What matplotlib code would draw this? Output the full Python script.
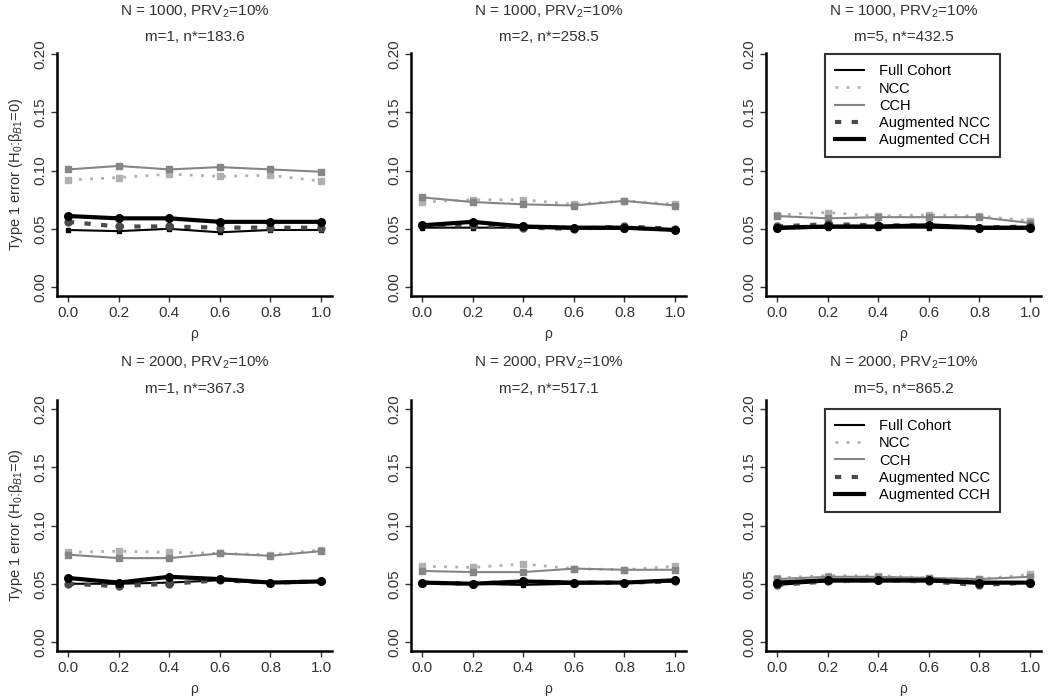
import matplotlib
matplotlib.use("Agg")
import matplotlib.pyplot as plt

plt.rcParams["font.family"] = ["Liberation Sans", "DejaVu Sans"]
plt.rcParams["mathtext.fontset"] = "custom"
plt.rcParams["mathtext.rm"] = "Liberation Sans"
plt.rcParams["mathtext.it"] = "Liberation Sans:italic"

rho = [0.0, 0.2, 0.4, 0.6, 0.8, 1.0]

# panels: (N=1000,m=1) (1000,2) (1000,5) (2000,1) (2000,2) (2000,5)
n_total = [1000, 1000, 1000, 2000, 2000, 2000]
m_vals = [1, 2, 5, 1, 2, 5]
n_star = ["183.6", "258.5", "432.5", "367.3", "517.1", "865.2"]

full_cohort = [
    [0.049, 0.048, 0.050, 0.047, 0.049, 0.049],
    [0.051, 0.051, 0.051, 0.050, 0.050, 0.049],
    [0.050, 0.051, 0.051, 0.051, 0.050, 0.050],
    [0.050, 0.050, 0.051, 0.053, 0.051, 0.052],
    [0.051, 0.050, 0.049, 0.050, 0.051, 0.052],
    [0.049, 0.052, 0.052, 0.052, 0.050, 0.051],
]
ncc = [
    [0.092, 0.094, 0.097, 0.095, 0.096, 0.091],
    [0.073, 0.075, 0.075, 0.071, 0.074, 0.071],
    [0.062, 0.064, 0.061, 0.062, 0.061, 0.057],
    [0.077, 0.078, 0.077, 0.076, 0.075, 0.079],
    [0.065, 0.064, 0.067, 0.063, 0.062, 0.065],
    [0.055, 0.057, 0.057, 0.055, 0.054, 0.058],
]
cch = [
    [0.101, 0.104, 0.101, 0.103, 0.101, 0.099],
    [0.077, 0.073, 0.071, 0.070, 0.074, 0.070],
    [0.061, 0.059, 0.060, 0.060, 0.060, 0.055],
    [0.075, 0.072, 0.072, 0.076, 0.074, 0.078],
    [0.061, 0.060, 0.060, 0.063, 0.062, 0.062],
    [0.054, 0.056, 0.056, 0.055, 0.054, 0.056],
]
aug_ncc = [
    [0.056, 0.052, 0.052, 0.051, 0.051, 0.051],
    [0.053, 0.053, 0.051, 0.050, 0.052, 0.050],
    [0.052, 0.054, 0.053, 0.053, 0.051, 0.052],
    [0.050, 0.048, 0.050, 0.053, 0.051, 0.052],
    [0.051, 0.050, 0.052, 0.051, 0.051, 0.052],
    [0.049, 0.052, 0.053, 0.052, 0.049, 0.051],
]
aug_cch = [
    [0.061, 0.059, 0.059, 0.056, 0.056, 0.056],
    [0.053, 0.056, 0.052, 0.051, 0.051, 0.049],
    [0.051, 0.052, 0.052, 0.053, 0.051, 0.051],
    [0.055, 0.051, 0.056, 0.054, 0.051, 0.052],
    [0.051, 0.050, 0.052, 0.051, 0.051, 0.053],
    [0.051, 0.053, 0.053, 0.053, 0.051, 0.051],
]

W, H = 1050, 700
fig = plt.figure(figsize=(10.5, 7), dpi=100)

lefts = [57, 411, 766]
row_top = [53, 400]
row_bot = [296, 651]
row_ymax = [0.201, 0.2077]

for i in range(6):
    r, c = divmod(i, 3)
    l = lefts[c]
    ax = fig.add_axes([l / W, 1 - row_bot[r] / H, 275 / W, (row_bot[r] - row_top[r]) / H])

    ax.plot(rho, full_cohort[i], color="black", lw=1.5, marker="s", ms=3.5,
            label="Full Cohort")
    ax.plot(rho, ncc[i], color="#b0b0b0", lw=2, ls=(0, (1, 3)), marker="s", ms=3.8,
            label="NCC")
    ax.plot(rho, cch[i], color="#858585", lw=1.5, marker="s", ms=3.8, label="CCH")
    ax.plot(rho, aug_ncc[i], color="#4a4a4a", lw=3, ls=(0, (1.5, 2.5)), marker="o", ms=5,
            label="Augmented NCC")
    ax.plot(rho, aug_cch[i], color="black", lw=3, marker="o", ms=5.5,
            label="Augmented CCH")

    ax.set_xlim(-0.043, 1.043)
    ax.set_ylim(-0.0077, row_ymax[r])
    ax.set_xticks(rho)
    ax.set_xticklabels(["%.1f" % v for v in rho])
    ax.set_yticks([0.0, 0.05, 0.10, 0.15, 0.20])
    ax.set_yticklabels(["0.00", "0.05", "0.10", "0.15", "0.20"], rotation=90, va="center")
    for s in ["top", "right"]:
        ax.spines[s].set_visible(False)
    for s in ["left", "bottom"]:
        ax.spines[s].set_linewidth(1.8)
    ax.tick_params(axis="both", labelsize=11, length=4, width=1, colors="#333333",
                   labelcolor="#333333", pad=3)
    ax.set_xlabel("ρ", fontsize=10, color="#333333", labelpad=5)

    ax.annotate("N = %d, PRV$_2$=10%%" % n_total[i], xy=(0.5, 1), xycoords="axes fraction",
                xytext=(0, 29.5 if r == 0 else 26.6), textcoords="offset points",
                ha="center", va="center", fontsize=11, color="#333333")
    ax.annotate("m=%d, n*=%s" % (m_vals[i], n_star[i]), xy=(0.5, 1), xycoords="axes fraction",
                xytext=(0, 11.5 if r == 0 else 8), textcoords="offset points",
                ha="center", va="center", fontsize=11, color="#333333")

    if c == 0:
        ax.set_ylabel("Type 1 error (H$_0$:β$_{B1}$=0)", fontsize=10.5, color="#333333",
                      labelpad=6)
    if c == 2:
        leg = ax.legend(loc="upper left", bbox_to_anchor=(0.19, 0.2),
                        bbox_transform=ax.transData, fontsize=10.5, frameon=True,
                        fancybox=False, edgecolor="black", handlelength=2.0,
                        labelspacing=0.22, borderpad=0.7, handletextpad=1.0,
                        borderaxespad=0)
        leg.get_frame().set_linewidth(1.5)
        for h in leg.legend_handles:
            h.set_marker("")

fig.savefig("out.png", dpi=100)
